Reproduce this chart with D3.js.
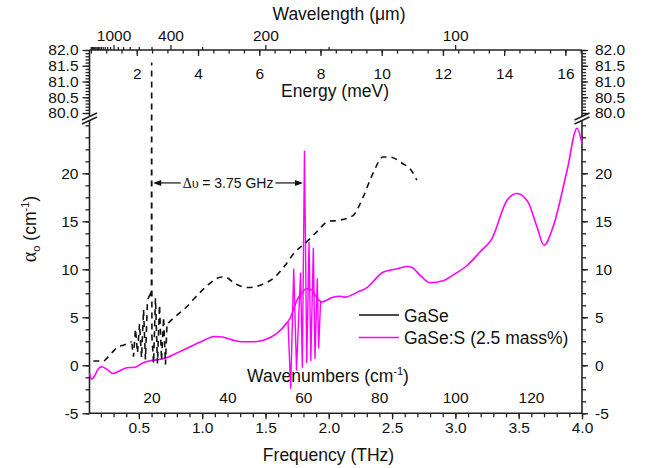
<!DOCTYPE html>
<html>
<head>
<meta charset="utf-8">
<style>
  body { margin: 0; background: #fff; }
  svg { font-family: "Liberation Sans", Arial, sans-serif; }
  .axis text { font-size: 15.5px; fill: #111; }
  .axis line { stroke: #222; stroke-width: 1.3; }
  .axisline { stroke: #222; stroke-width: 1.6; }
  .title { font-size: 17.5px; fill: #111; }
  .legend text { font-size: 17.5px; fill: #111; }
</style>
</head>
<body>
<svg id="chart" width="646" height="468"></svg>
<script src="https://d3js.org/d3.v7.min.js"></script>
<script>
// GaSe (dashed), smooth part, frequency in THz and absorption in cm-1
var gaseFreq  = [0.14, 0.19, 0.215, 0.246, 0.285, 0.337, 0.377, 0.443];
var gaseAlpha = [0.45, 0.45, 0.4, 0.73, 1.28, 1.94, 2.1, 2.46];
var gaseFreq2  = [0.732, 0.772, 0.878, 0.969, 1.048, 1.154, 1.18, 1.259, 1.364, 1.47,
                  1.575, 1.654, 1.733, 1.812, 1.905, 1.996, 2.075, 2.191, 2.27, 2.349,
                  2.428, 2.483, 2.586, 2.641, 2.696];
var gaseAlpha2 = [4.4, 4.9, 6.1, 7.4, 8.4, 9.2, 9.2, 8.5, 8.1, 8.4,
                  9.2, 10.4, 11.8, 12.7, 13.9, 15.0, 15.1, 15.6, 17.5, 20.0,
                  21.7, 21.7, 21.0, 20.5, 19.3];
// GaSe interference fringes around 0.6 THz (big spike goes into the upper panel)
var gaseFringeFreq  = [0.443, 0.4575, 0.473, 0.489, 0.505, 0.521, 0.537, 0.552, 0.568, 0.590,
                       0.599, 0.601, 0.603, 0.616, 0.631, 0.647, 0.663, 0.679, 0.695, 0.710, 0.722, 0.732];
var gaseFringeAlpha = [2.46, 0.9, 3.8, 1.3, 4.3, 0.8, 5.8, 0.6, 6.8, 7.4,
                       7.0, 81.6, 3.0, 0.2, 7.0, 0.2, 6.3, 0.5, 5.0, 0.1, 4.3, 4.4];
var gaseSpikeIndex = 11;

// GaSe:S (2.5 mass%) smooth curve
var gasesFreq  = [0.11, 0.127, 0.15, 0.18, 0.206, 0.246, 0.298, 0.337, 0.404, 0.469,
                  0.53, 0.59, 0.66, 0.72, 0.82, 0.99, 1.10, 1.16, 1.26, 1.31, 1.40,
                  1.49, 1.59, 1.668, 1.694, 1.749, 1.789, 1.828, 1.868, 1.907, 1.947,
                  1.986, 2.033, 2.089, 2.128, 2.223, 2.302, 2.428, 2.523, 2.618, 2.657,
                  2.72, 2.799, 2.902, 2.981, 3.092, 3.194, 3.289, 3.408, 3.487, 3.574,
                  3.645, 3.70, 3.771, 3.882, 3.961, 4.0];
var gasesAlpha = [-0.8, -1.45, -1.1, -0.35, -0.15, -0.4, -0.85, -0.65, -0.25, -0.2,
                  0.25, 0.48, 0.6, 0.8, 1.4, 2.45, 3.0, 2.95, 2.56, 2.45, 2.45,
                  2.64, 3.33, 4.4, 4.9, 6.8, 7.6, 8.0, 7.8, 7.0, 6.6,
                  6.8, 7.1, 7.2, 7.1, 7.6, 8.1, 9.7, 10.0, 10.3, 10.2,
                  9.4, 8.6, 8.8, 9.4, 10.4, 11.8, 13.2, 17.2, 17.9, 17.0,
                  14.4, 12.5, 14.4, 20.3, 24.7, 23.1];
// GaSe:S fringes around 1.8 THz
var gasesFringeFreq  = [1.678, 1.699, 1.723, 1.745, 1.777, 1.791, 1.808, 1.826, 1.844,
                        1.858, 1.878, 1.891, 1.909, 1.920, 1.935];
var gasesFringeAlpha = [4.5, -2.4, 10.0, -0.5, 9.6, -0.2, 22.3, 0.3, 12.8,
                        0.5, 12.2, 0.7, 9.0, 1.8, 6.6];

// tick values
var freqTicks       = [0.5, 1.0, 1.5, 2.0, 2.5, 3.0, 3.5, 4.0];
var alphaTicks      = [-5, 0, 5, 10, 15, 20];
var alphaTopTicks   = [80.0, 80.5, 81.0, 81.5, 82.0];
var energyTicks     = [2, 4, 6, 8, 10, 12, 14, 16];
var wavenumberTicks = [20, 40, 60, 80, 100, 120];
var wavelengthTicks = [1000, 400, 200, 100];
var wavelengthMinor = [2500, 2400, 2300, 2200, 2100, 2000, 1900, 1800, 1700, 1600, 1500,
                       1400, 1300, 1200, 1100, 900, 800, 700, 600, 500, 300, 150];

var annotation = "= 3.75 GHz";
var legendNames = ["GaSe", "GaSe:S (2.5 mass%)"];

var C_UM = 299.792458, MEV = 0.241799, WN = 0.0299792458;

var svg = d3.select("#chart");
var left = 89.5, right = 582;

var x = d3.scaleLinear().domain([0.11, 4.0]).range([left, right]);
// broken y axis: lower panel -5..25.4, upper panel 80..82
var y = d3.scaleLinear().domain([-5, 25.4, 80, 82]).range([413.3, 121.5, 113, 50]);
var xE = d3.scaleLinear().domain([0.11 / MEV, 4.0 / MEV]).range([left, right]);
var xW = d3.scaleLinear().domain([0.11 / WN, 4.0 / WN]).range([left, right]);

function steps(a, b, s) {
  var out = [];
  for (var v = a; v <= b + 1e-9; v += s) out.push(Math.round(v * 1000) / 1000);
  return out;
}
function noDomain(g) { g.select(".domain").remove(); }

// ---- bottom axis (frequency)
svg.append("g").attr("class", "axis")
  .attr("transform", "translate(0," + y(-5) + ")")
  .call(d3.axisBottom(x).tickValues(steps(0.2, 4.0, 0.1)).tickSize(4).tickSizeOuter(0).tickFormat(""))
  .call(noDomain);
svg.append("g").attr("class", "axis")
  .attr("transform", "translate(0," + y(-5) + ")")
  .call(d3.axisBottom(x).tickValues(freqTicks).tickSize(6).tickPadding(3).tickSizeOuter(0)
    .tickFormat(d3.format(".1f")))
  .call(noDomain);

// ---- wavenumber labels inside the plot
svg.append("g").attr("class", "axis")
  .attr("transform", "translate(0,391.5)")
  .call(d3.axisBottom(xW).tickValues(wavenumberTicks).tickSize(0).tickPadding(0))
  .call(function(g) { g.select(".domain").remove(); g.selectAll("line").remove(); });

// ---- top axis: energy ticks (inward) and wavelength ticks (outward)
svg.append("g").attr("class", "axis")
  .attr("transform", "translate(0," + y(82) + ")")
  .call(d3.axisBottom(xE).tickValues(steps(0.5, 16.5, 0.5)).tickSize(3.5).tickSizeOuter(0).tickFormat(""))
  .call(noDomain);
svg.append("g").attr("class", "axis")
  .attr("transform", "translate(0," + y(82) + ")")
  .call(d3.axisBottom(xE).tickValues(energyTicks).tickSize(6).tickPadding(11.5).tickSizeOuter(0))
  .call(noDomain);
svg.append("g").attr("class", "axis")
  .attr("transform", "translate(0," + y(82) + ")")
  .call(d3.axisTop(x).tickValues(wavelengthMinor.map(function(l) { return C_UM / l; }))
    .tickSize(3).tickSizeOuter(0).tickFormat(""))
  .call(noDomain);
svg.append("g").attr("class", "axis")
  .attr("transform", "translate(0," + y(82) + ")")
  .call(d3.axisTop(x).tickValues(wavelengthTicks.map(function(l) { return C_UM / l; }))
    .tickSize(5).tickPadding(4).tickSizeOuter(0)
    .tickFormat(function(f) { return Math.round(C_UM / f); }))
  .call(noDomain);

// ---- left / right axes
var alphaMinor = steps(-5, 25, 1.25).concat(steps(80, 82, 0.1));
[["left", d3.axisLeft, 7, 4], ["right", d3.axisRight, 6, 7]].forEach(function(a) {
  var xp = a[0] == "left" ? left : right;
  svg.append("g").attr("class", "axis")
    .attr("transform", "translate(" + xp + ",0)")
    .call(a[1](y).tickValues(alphaMinor).tickSize(4).tickSizeOuter(0).tickFormat(""))
    .call(noDomain);
  svg.append("g").attr("class", "axis")
    .attr("transform", "translate(" + xp + ",0)")
    .call(a[1](y).tickValues(alphaTicks.concat(alphaTopTicks)).tickSize(a[2]).tickPadding(a[3])
      .tickSizeOuter(0)
      .tickFormat(function(d) { return d >= 80 ? d.toFixed(1) : String(d); }))
    .call(noDomain);

  // axis line in two pieces plus the break marks
  svg.append("line").attr("class", "axisline")
    .attr("x1", xp).attr("x2", xp).attr("y1", y(82)).attr("y2", y(80) + 3.5);
  svg.append("line").attr("class", "axisline")
    .attr("x1", xp).attr("x2", xp).attr("y1", y(25.4) - 1).attr("y2", y(-5));
  [y(80) + 3.5, y(25.4) - 1].forEach(function(yb) {
    svg.append("line").attr("class", "axisline")
      .attr("x1", xp - 7.5).attr("y1", yb + 3.4)
      .attr("x2", xp + 7.5).attr("y2", yb - 3.4);
  });
});

// top / bottom axis lines
svg.append("line").attr("class", "axisline")
  .attr("x1", left).attr("x2", right).attr("y1", y(82)).attr("y2", y(82));
svg.append("line").attr("class", "axisline")
  .attr("x1", left).attr("x2", right).attr("y1", y(-5)).attr("y2", y(-5));

// ---- titles
svg.append("text").attr("class", "title").attr("x", 339).attr("y", 19.5)
  .attr("text-anchor", "middle").text("Wavelength (\u03bcm)");
svg.append("text").attr("class", "title").attr("x", 335).attr("y", 96.5)
  .attr("text-anchor", "middle").text("Energy (meV)");
svg.append("text").attr("class", "title").attr("x", 328.5).attr("y", 460.5)
  .attr("text-anchor", "middle").text("Frequency (THz)");

var wt = svg.append("text").attr("class", "title").attr("x", 328).attr("y", 381.5)
  .attr("text-anchor", "middle");
wt.append("tspan").text("Wavenumbers (cm");
wt.append("tspan").attr("dy", -7).style("font-size", "11px").text("-1");
wt.append("tspan").attr("dy", 7).text(")");

var yt = svg.append("text").attr("class", "title")
  .attr("transform", "translate(36,229) rotate(-90)").attr("text-anchor", "middle");
yt.append("tspan").style("font-family", "'Liberation Serif', serif").style("font-size", "20px").text("\u03b1");
yt.append("tspan").attr("dy", 4).style("font-size", "11px").text("o");
yt.append("tspan").attr("dy", -4).text(" (cm");
yt.append("tspan").attr("dy", -7).style("font-size", "11px").text("-1");
yt.append("tspan").attr("dy", 7).text(")");

// ---- data lines
function pairs(fs, vs) { return fs.map(function(f, i) { return [f, vs[i]]; }); }

var smooth = d3.line().curve(d3.curveMonotoneX)
  .x(function(d) { return x(d[0]); }).y(function(d) { return y(d[1]); });
var straight = d3.line()
  .x(function(d) { return x(d[0]); }).y(function(d) { return y(d[1]); });

svg.append("path").datum(pairs(gasesFringeFreq, gasesFringeAlpha))
  .attr("fill", "none").attr("stroke", "#ff00ff").attr("stroke-width", 1.4)
  .attr("stroke-linejoin", "round").attr("d", straight);
svg.append("path").datum(pairs(gasesFreq, gasesAlpha))
  .attr("fill", "none").attr("stroke", "#ff00ff").attr("stroke-width", 1.6)
  .attr("d", smooth);

// put the top of the tall spike in the middle of a dash so up and down strokes coincide
var gaseFringe = pairs(gaseFringeFreq, gaseFringeAlpha);
var tmp = svg.append("path").attr("d", straight(gaseFringe.slice(0, gaseSpikeIndex + 1)));
var spikeLen = tmp.node().getTotalLength();
tmp.remove();
var fringeOffset = ((3 - spikeLen) % 11 + 11) % 11;

[[pairs(gaseFreq, gaseAlpha), smooth, 0], [gaseFringe, straight, fringeOffset],
 [pairs(gaseFreq2, gaseAlpha2), smooth, 0]].forEach(function(s) {
  svg.append("path").datum(s[0])
    .attr("fill", "none").attr("stroke", "#111").attr("stroke-width", 1.6)
    .attr("stroke-dasharray", "6,5").attr("stroke-dashoffset", s[2]).attr("d", s[1]);
});

// ---- annotation: arrows between the two spikes
var ya = y(19);
var xl = x(gaseFringeFreq[gaseSpikeIndex]) + 1.5, xr = x(gasesFringeFreq[6]) - 1.5;
var ann = svg.append("text").attr("x", (xl + xr) / 2).attr("y", ya + 5)
  .attr("text-anchor", "middle").style("font-size", "14px").style("fill", "#111");
ann.append("tspan").style("font-family", "'Liberation Serif', serif").text("\u0394\u03c5 ");
ann.append("tspan").text(annotation);
var bb = ann.node().getBBox();
svg.append("line").attr("x1", xl + 6).attr("x2", bb.x - 2).attr("y1", ya).attr("y2", ya)
  .attr("stroke", "#111").attr("stroke-width", 1.2);
svg.append("line").attr("x1", bb.x + bb.width + 2).attr("x2", xr - 6).attr("y1", ya).attr("y2", ya)
  .attr("stroke", "#111").attr("stroke-width", 1.2);
svg.append("path").attr("fill", "#111")
  .attr("d", "M" + xl + "," + ya + "l8,-3l0,6z");
svg.append("path").attr("fill", "#111")
  .attr("d", "M" + xr + "," + ya + "l-8,-3l0,6z");

// ---- legend
var legend = svg.append("g").attr("class", "legend");
[["#111", 315, 321.5], ["#ff00ff", 337.5, 344]].forEach(function(l, i) {
  legend.append("line").attr("x1", 359).attr("x2", 399).attr("y1", l[1]).attr("y2", l[1])
    .attr("stroke", l[0]).attr("stroke-width", 1.6);
  legend.append("text").attr("x", 404).attr("y", l[2]).text(legendNames[i]);
});
</script>
</body>
</html>
